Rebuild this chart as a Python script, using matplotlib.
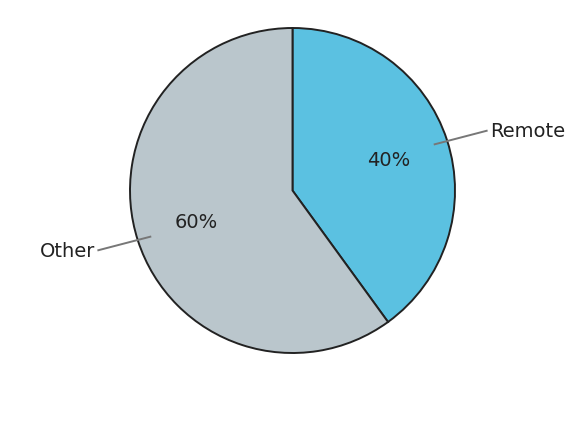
import matplotlib
matplotlib.use("Agg")
import matplotlib.pyplot as plt
import numpy as np

labels = ["Remote", "Other"]
shares = [40, 60]
colors = ["#5bc1e1", "#bac6cc"]

fig = plt.figure(figsize=(5.85, 4.39), dpi=100)
ax = fig.add_axes([130 / 585, 85 / 439, 325 / 585, 325 / 439])

wedges, _, autotexts = ax.pie(
    shares, colors=colors, startangle=90, counterclock=False,
    autopct="%d%%", pctdistance=0.62,
    wedgeprops=dict(edgecolor="#222222", linewidth=1.4),
    textprops=dict(fontsize=14, color="#222222"),
)
ax.set_xlim(-1, 1)
ax.set_ylim(-1, 1)
ax.set_aspect("equal")

# leader lines + outside labels
for w, name in zip(wedges, labels):
    mid = np.deg2rad((w.theta1 + w.theta2) / 2)
    c, s = np.cos(mid), np.sin(mid)
    # end point bends a touch toward horizontal
    tilt = np.deg2rad(0.9) * np.sign(s) * np.sign(c)
    ce, se = np.cos(mid - tilt), np.sin(mid - tilt)
    x1, y1 = 1.25 * ce, 1.25 * se
    ax.plot([0.92 * c, x1], [0.92 * s, y1], color="#777777",
            lw=1.4, clip_on=False)
    ha = "left" if c > 0 else "right"
    ax.text(x1 + 0.022 * np.sign(c), y1, name, ha=ha, va="center",
            fontsize=14, color="#222222")

fig.savefig("out.png", dpi=100)
